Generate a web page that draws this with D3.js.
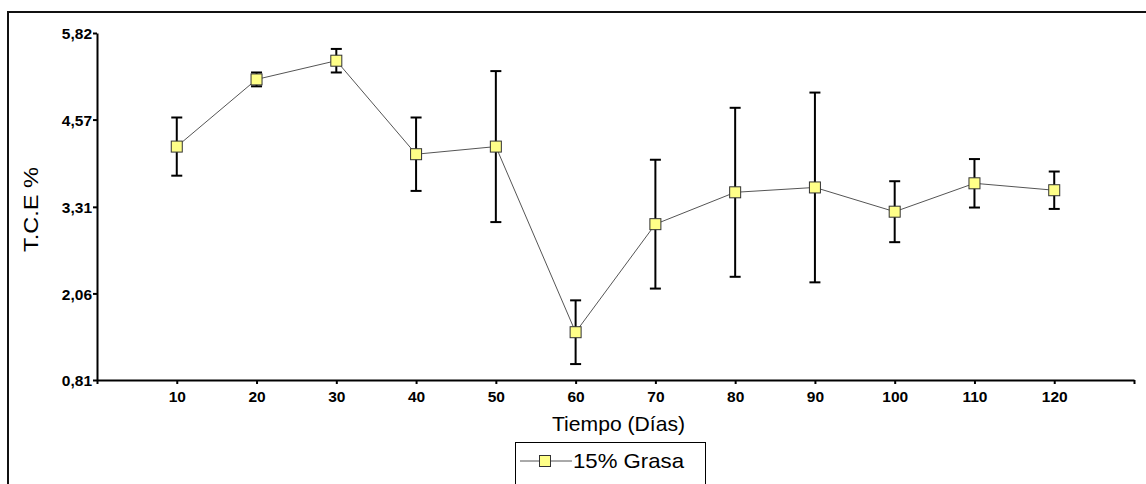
<!DOCTYPE html>
<html>
<head>
<meta charset="utf-8">
<script src="https://cdn.jsdelivr.net/npm/d3@7"></script>
<style>
  html, body { margin: 0; padding: 0; background: #fff; }
  svg { display: block; font-family: "Liberation Sans", Arial, sans-serif; }
</style>
</head>
<body>
<svg id="chart" width="1146" height="484"></svg>
<script>
const days = [10, 20, 30, 40, 50, 60, 70, 80, 90, 100, 110, 120];
const tceMean = [4.18, 5.15, 5.42, 4.07, 4.18, 1.50, 3.06, 3.52, 3.59, 3.24, 3.65, 3.55];
const tceErr  = [0.42, 0.10, 0.17, 0.53, 1.09, 0.46, 0.93, 1.22, 1.37, 0.44, 0.35, 0.27];
const yTickValues = [0.81, 2.06, 3.31, 4.57, 5.82];
const yTickLabels = ["0,81", "2,06", "3,31", "4,57", "5,82"];
const xTickValues = [0, 10, 20, 30, 40, 50, 60, 70, 80, 90, 100, 110, 120, 130];
const seriesName = "15% Grasa";
const xTitle = "Tiempo (Días)";
const yTitle = "T.C.E %";

const svg = d3.select("#chart");

// outer frame (left and top edges visible)
svg.append("path")
  .attr("d", "M8,484 L8,12 L1146,12")
  .attr("fill", "none").attr("stroke", "#111").attr("stroke-width", 2);

const x = d3.scaleLinear().domain([0, 130]).range([97, 1134]);
const y = d3.scaleLinear().domain([0.81, 5.82]).range([380, 33]);

// y axis
const yAxis = svg.append("g").attr("transform", "translate(97,0)")
  .call(d3.axisLeft(y).tickValues(yTickValues).tickSize(4).tickSizeOuter(0)
    .tickFormat((d, i) => yTickLabels[i]));
yAxis.select(".domain").attr("stroke", "#000").attr("stroke-width", 2);
yAxis.selectAll(".tick line").attr("stroke", "#000").attr("stroke-width", 2);
yAxis.selectAll(".tick text").attr("font-size", 15.5).attr("font-weight", "bold")
  .attr("fill", "#000").attr("x", -5).attr("dy", "0.36em")
  .attr("font-family", "Liberation Sans, Arial, sans-serif");

// x axis
const xAxis = svg.append("g").attr("transform", "translate(0,380)")
  .call(d3.axisBottom(x).tickValues(xTickValues).tickSize(4).tickSizeOuter(0)
    .tickFormat(d => (d >= 10 && d <= 120) ? d : ""));
xAxis.select(".domain").attr("stroke", "#000").attr("stroke-width", 2);
xAxis.selectAll(".tick line").attr("stroke", "#000").attr("stroke-width", 2);
xAxis.selectAll(".tick text").attr("font-size", 15.5).attr("font-weight", "bold")
  .attr("fill", "#000").attr("y", 22).attr("dy", 0)
  .attr("font-family", "Liberation Sans, Arial, sans-serif");

// axis titles
svg.append("text").attr("x", 552).attr("y", 431)
  .attr("font-size", 21).attr("fill", "#000")
  .attr("textLength", 133).attr("lengthAdjust", "spacingAndGlyphs").text(xTitle);
svg.append("text").attr("transform", "translate(38,209.5) rotate(-90)")
  .attr("text-anchor", "middle").attr("font-size", 21).attr("fill", "#000")
  .attr("textLength", 85).attr("lengthAdjust", "spacingAndGlyphs").text(yTitle);

const data = days.map((d, i) => ({ d, m: tceMean[i], e: tceErr[i] }));

// error bars
const eb = svg.append("g").attr("stroke", "#000").attr("stroke-width", 2);
data.forEach(p => {
  const cx = x(p.d), y1 = y(p.m + p.e), y2 = y(p.m - p.e);
  eb.append("line").attr("x1", cx).attr("x2", cx).attr("y1", y1).attr("y2", y2);
  eb.append("line").attr("x1", cx - 5.5).attr("x2", cx + 5.5).attr("y1", y1).attr("y2", y1);
  eb.append("line").attr("x1", cx - 5.5).attr("x2", cx + 5.5).attr("y1", y2).attr("y2", y2);
});

// connecting line
svg.append("path").datum(data)
  .attr("d", d3.line().x(p => x(p.d)).y(p => y(p.m)))
  .attr("fill", "none").attr("stroke", "#555").attr("stroke-width", 1);

// markers
svg.append("g").selectAll("rect").data(data).join("rect")
  .attr("x", p => x(p.d) - 5.5).attr("y", p => y(p.m) - 5.5)
  .attr("width", 11).attr("height", 11)
  .attr("fill", "#ffff88").attr("stroke", "#333").attr("stroke-width", 1);

// legend
const lg = svg.append("g");
lg.append("rect").attr("x", 515.5).attr("y", 442.5).attr("width", 190).attr("height", 60)
  .attr("fill", "#fff").attr("stroke", "#000").attr("stroke-width", 1);
lg.append("line").attr("x1", 520).attr("x2", 572).attr("y1", 461).attr("y2", 461)
  .attr("stroke", "#555").attr("stroke-width", 1);
lg.append("rect").attr("x", 539.5).attr("y", 455.5).attr("width", 11).attr("height", 11)
  .attr("fill", "#ffff88").attr("stroke", "#333").attr("stroke-width", 1);
lg.append("text").attr("x", 573).attr("y", 468).attr("font-size", 21).attr("fill", "#000")
  .attr("textLength", 111).attr("lengthAdjust", "spacingAndGlyphs").text(seriesName);
</script>
</body>
</html>
